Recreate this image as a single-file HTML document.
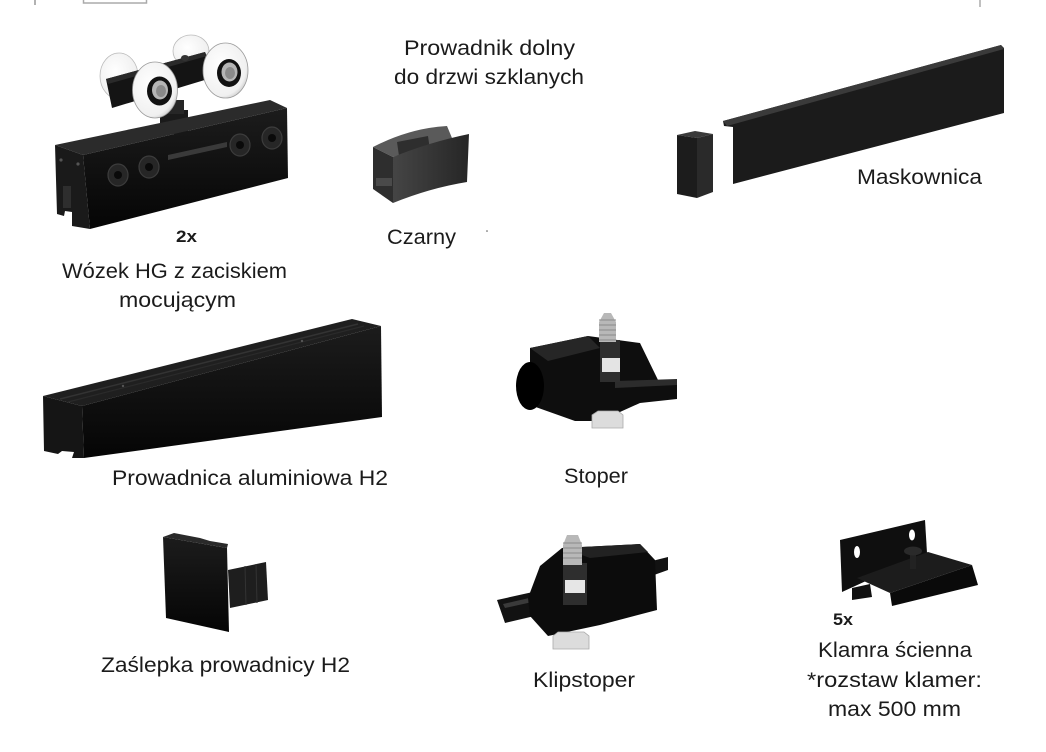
<!DOCTYPE html>
<html><head><meta charset="utf-8"><style>
html,body{margin:0;padding:0;background:#fff;}
svg{display:block;}
text{font-family:"Liberation Sans","DejaVu Sans",sans-serif;fill:#1b1b1b;font-size:21px;}
.b{font-weight:bold;font-size:17px;}
</style></head><body>
<svg width="1046" height="752" viewBox="0 0 1046 752" xmlns="http://www.w3.org/2000/svg">
<defs>
<linearGradient id="gf" x1="0" y1="0" x2="1" y2="0"><stop offset="0" stop-color="#454545"/><stop offset="1" stop-color="#262626"/></linearGradient>
<linearGradient id="gb" x1="0" y1="0" x2="0" y2="1"><stop offset="0" stop-color="#1c1c1c"/><stop offset="1" stop-color="#050505"/></linearGradient>
<radialGradient id="gw" cx="0.4" cy="0.4" r="0.7"><stop offset="0" stop-color="#ffffff"/><stop offset="0.8" stop-color="#f0f0f0"/><stop offset="1" stop-color="#bdbdbd"/></radialGradient>
</defs>

<!-- top border marks -->
<line x1="35" y1="0" x2="35" y2="5" stroke="#999" stroke-width="1.5"/>
<rect x="83.5" y="-3" width="63" height="6" fill="none" stroke="#aaa" stroke-width="1.5"/>
<line x1="980" y1="0" x2="980" y2="7" stroke="#aaa" stroke-width="1.5"/>

<!-- ===== Trolley ===== -->
<ellipse cx="119" cy="76" rx="19" ry="23" fill="url(#gw)" stroke="#bbb" stroke-width="0.8"/>
<ellipse cx="191" cy="51" rx="18" ry="16" fill="url(#gw)" stroke="#bbb" stroke-width="0.8"/>
<polygon points="106,79 205,52 208,79 112,108" fill="#141414"/>
<polygon points="106,79 205,52 207,56 108,84" fill="#2a2a2a"/>
<ellipse cx="185" cy="58" rx="4" ry="3" fill="#333"/>
<rect x="160" y="110" width="28" height="24" fill="#1a1a1a"/>
<rect x="164" y="100" width="20" height="14" fill="#262626"/>
<ellipse cx="155" cy="90" rx="22.5" ry="28" fill="url(#gw)" stroke="#999" stroke-width="0.8"/>
<ellipse cx="159.5" cy="91" rx="12.5" ry="14.5" fill="#111"/>
<ellipse cx="160" cy="90" rx="8" ry="9.5" fill="#b5b5b5"/>
<ellipse cx="161" cy="91" rx="5" ry="6" fill="#8a8a8a"/>
<ellipse cx="225.5" cy="70.5" rx="22.5" ry="27.5" fill="url(#gw)" stroke="#999" stroke-width="0.8"/>
<ellipse cx="229" cy="73" rx="12" ry="14" fill="#111"/>
<ellipse cx="229.5" cy="72" rx="8" ry="9.5" fill="#b5b5b5"/>
<ellipse cx="230" cy="73" rx="5" ry="6" fill="#8a8a8a"/>
<!-- body -->
<polygon points="55,145 270,100 287,108 83,155" fill="#2b2b2b"/>
<polygon points="83,155 287,108 288,178 90,229" fill="url(#gb)"/>
<polygon points="55,145 83,155 90,229 72,226 72,212 65,211 64,216 57,214" fill="#1a1a1a"/>
<rect x="63" y="186" width="8" height="22" fill="#2e2e2e"/>
<circle cx="61" cy="160" r="1.6" fill="#555"/><circle cx="78" cy="164" r="1.6" fill="#555"/>
<polygon points="168,155 227,142 227,147 168,160" fill="#3a3a3a"/>
<g fill="#262626" stroke="#3c3c3c" stroke-width="1.2">
<ellipse cx="118" cy="175" rx="10" ry="11"/>
<ellipse cx="149" cy="167" rx="10" ry="11"/>
<ellipse cx="240" cy="145" rx="10" ry="11"/>
<ellipse cx="272" cy="138" rx="10" ry="11"/>
</g>
<g fill="#0a0a0a"><circle cx="118" cy="175" r="4"/><circle cx="149" cy="167" r="4"/><circle cx="240" cy="145" r="4"/><circle cx="272" cy="138" r="4"/></g>

<!-- ===== Czarny guide ===== -->
<path d="M373,147 Q410,128 447,126 L452,138 L393,157 Z" fill="#5a5a5a"/>
<polygon points="397,142 428,136 430,150 399,156" fill="#2e2e2e"/>
<path d="M373,147 L393,157 L393,203 L373,189 Z" fill="#2e2e2e"/>
<rect x="376" y="178" width="16" height="8" fill="#4a4a4a"/>
<path d="M393,157 Q430,142 469,134 L467,182 Q430,188 393,203 Z" fill="url(#gf)"/>
<circle cx="487" cy="231" r="0.8" fill="#555"/>

<!-- ===== Maskownica ===== -->
<polygon points="677,135 695,131 713,134 697,138" fill="#3a3a3a"/>
<polygon points="677,135 697,138 697,198 677,194" fill="#1c1c1c"/>
<polygon points="697,138 713,134 713,192 697,198" fill="#2a2a2a"/>
<polygon points="723,121 1001,45 1004,48 1004,113 733,184 733,127 724,126" fill="#1b1b1b"/>
<polygon points="723,121 1001,45 1004,49 727,126" fill="#3a3a3a"/>

<!-- ===== Rail ===== -->
<polygon points="43,396 352,319 381,326 82,406" fill="#1f1f1f"/>
<polyline points="60,399 358,324" stroke="#333" stroke-width="1.5" fill="none"/>
<polyline points="68,402 364,326" stroke="#2a2a2a" stroke-width="1.2" fill="none"/>
<polygon points="82,406 381,326 382,417 84,458" fill="url(#gb)"/>
<polygon points="43,396 82,406 84,458 72,458 74,452 62,451 58,454 44,451" fill="#151515"/>
<circle cx="123" cy="386" r="1.2" fill="#555"/><circle cx="302" cy="341" r="1.2" fill="#555"/>

<!-- ===== Stoper ===== -->
<polygon points="530,348 588,336 640,343 658,380 677,382 677,399 640,403 600,421 575,421 530,405" fill="#0e0e0e"/>
<polygon points="530,348 588,336 600,348 548,361" fill="#262626"/>
<polygon points="615,381 677,379 677,385 615,388" fill="#2c2c2c"/>
<ellipse cx="530" cy="386" rx="14" ry="24" fill="#000"/>
<rect x="600" y="340" width="20" height="42" fill="#2e2e2e"/>
<rect x="602" y="358" width="18" height="14" fill="#e4e4e4"/>
<path d="M599,342 L599,322 L604,313 L611,313 L616,322 L616,342 Z" fill="#b8b8b8"/>
<g stroke="#8a8a8a" stroke-width="1"><line x1="599" y1="320" x2="616" y2="320"/><line x1="599" y1="325" x2="616" y2="325"/><line x1="599" y1="330" x2="616" y2="330"/><line x1="599" y1="335" x2="616" y2="335"/><line x1="599" y1="340" x2="616" y2="340"/></g>
<path d="M592,415 L598,411 L618,411 L623,415 L623,428 L592,428 Z" fill="#dcdcdc" stroke="#aaa" stroke-width="0.8"/>

<!-- ===== Zaślepka ===== -->
<polygon points="228,570 266,562 268,600 230,608" fill="#1e1e1e"/>
<g stroke="#333" stroke-width="1"><line x1="245" y1="566" x2="246" y2="605"/><line x1="256" y1="564" x2="257" y2="603"/></g>
<polygon points="163,537 227,548 229,632 166,618" fill="url(#gb)"/>
<polygon points="163,537 174,533 200,538 210,541 228,544 227,548" fill="#2a2a2a"/>

<!-- ===== Klipstoper ===== -->
<polygon points="497,600 560,586 640,564 668,557 668,570 640,580 560,610 505,623" fill="#121212"/>
<polygon points="503,604 555,592 555,597 505,608" fill="#3a3a3a"/>
<polygon points="528,598 540,566 562,548 640,544 655,560 657,610 600,625 548,636 530,616" fill="#0c0c0c"/>
<polygon points="562,548 640,544 648,552 590,558" fill="#222"/>
<rect x="563" y="563" width="24" height="42" fill="#2e2e2e"/>
<rect x="565" y="580" width="20" height="13" fill="#e6e6e6"/>
<path d="M563,565 L563,545 L567,535 L578,535 L582,545 L582,565 Z" fill="#b8b8b8"/>
<g stroke="#8a8a8a" stroke-width="1"><line x1="563" y1="543" x2="582" y2="543"/><line x1="563" y1="548" x2="582" y2="548"/><line x1="563" y1="553" x2="582" y2="553"/><line x1="563" y1="558" x2="582" y2="558"/></g>
<path d="M553,636 L558,632 L584,632 L589,636 L589,649 L553,649 Z" fill="#dcdcdc" stroke="#aaa" stroke-width="0.8"/>

<!-- ===== Klamra ===== -->
<polygon points="840,540 925,520 927,553 842,592" fill="#0f0f0f"/>
<ellipse cx="857" cy="552" rx="3" ry="6" fill="#fff"/>
<ellipse cx="912" cy="535" rx="3" ry="5.5" fill="#fff"/>
<polygon points="852,588 870,584 872,597 852,600" fill="#111"/>
<polygon points="857,578 928,552 972,565 890,593" fill="#1c1c1c"/>
<polygon points="890,593 972,565 978,585 892,606" fill="#0a0a0a"/>
<rect x="910" y="553" width="6" height="16" fill="#222"/>
<ellipse cx="913" cy="551" rx="9" ry="4.5" fill="#2a2a2a"/>

<!-- ===== Labels ===== -->
<text x="404" y="55" textLength="171" lengthAdjust="spacingAndGlyphs">Prowadnik dolny</text>
<text x="394" y="84" textLength="190" lengthAdjust="spacingAndGlyphs">do drzwi szklanych</text>
<text x="387" y="244" textLength="69" lengthAdjust="spacingAndGlyphs">Czarny</text>
<text class="b" x="176" y="242" textLength="21" lengthAdjust="spacingAndGlyphs">2x</text>
<text x="62" y="278" textLength="225" lengthAdjust="spacingAndGlyphs">Wózek HG z zaciskiem</text>
<text x="119" y="307" textLength="117" lengthAdjust="spacingAndGlyphs">mocującym</text>
<text x="857" y="184" textLength="125" lengthAdjust="spacingAndGlyphs">Maskownica</text>
<text x="112" y="485" textLength="276" lengthAdjust="spacingAndGlyphs">Prowadnica aluminiowa H2</text>
<text x="564" y="483" textLength="64" lengthAdjust="spacingAndGlyphs">Stoper</text>
<text x="101" y="672" textLength="249" lengthAdjust="spacingAndGlyphs">Zaślepka prowadnicy H2</text>
<text x="533" y="687" textLength="102" lengthAdjust="spacingAndGlyphs">Klipstoper</text>
<text class="b" x="833" y="625" textLength="20" lengthAdjust="spacingAndGlyphs">5x</text>
<text x="818" y="657" textLength="154" lengthAdjust="spacingAndGlyphs">Klamra ścienna</text>
<text x="807" y="687" textLength="175" lengthAdjust="spacingAndGlyphs">*rozstaw klamer:</text>
<text x="828" y="716" textLength="133" lengthAdjust="spacingAndGlyphs">max 500 mm</text>
</svg>
</body></html>
